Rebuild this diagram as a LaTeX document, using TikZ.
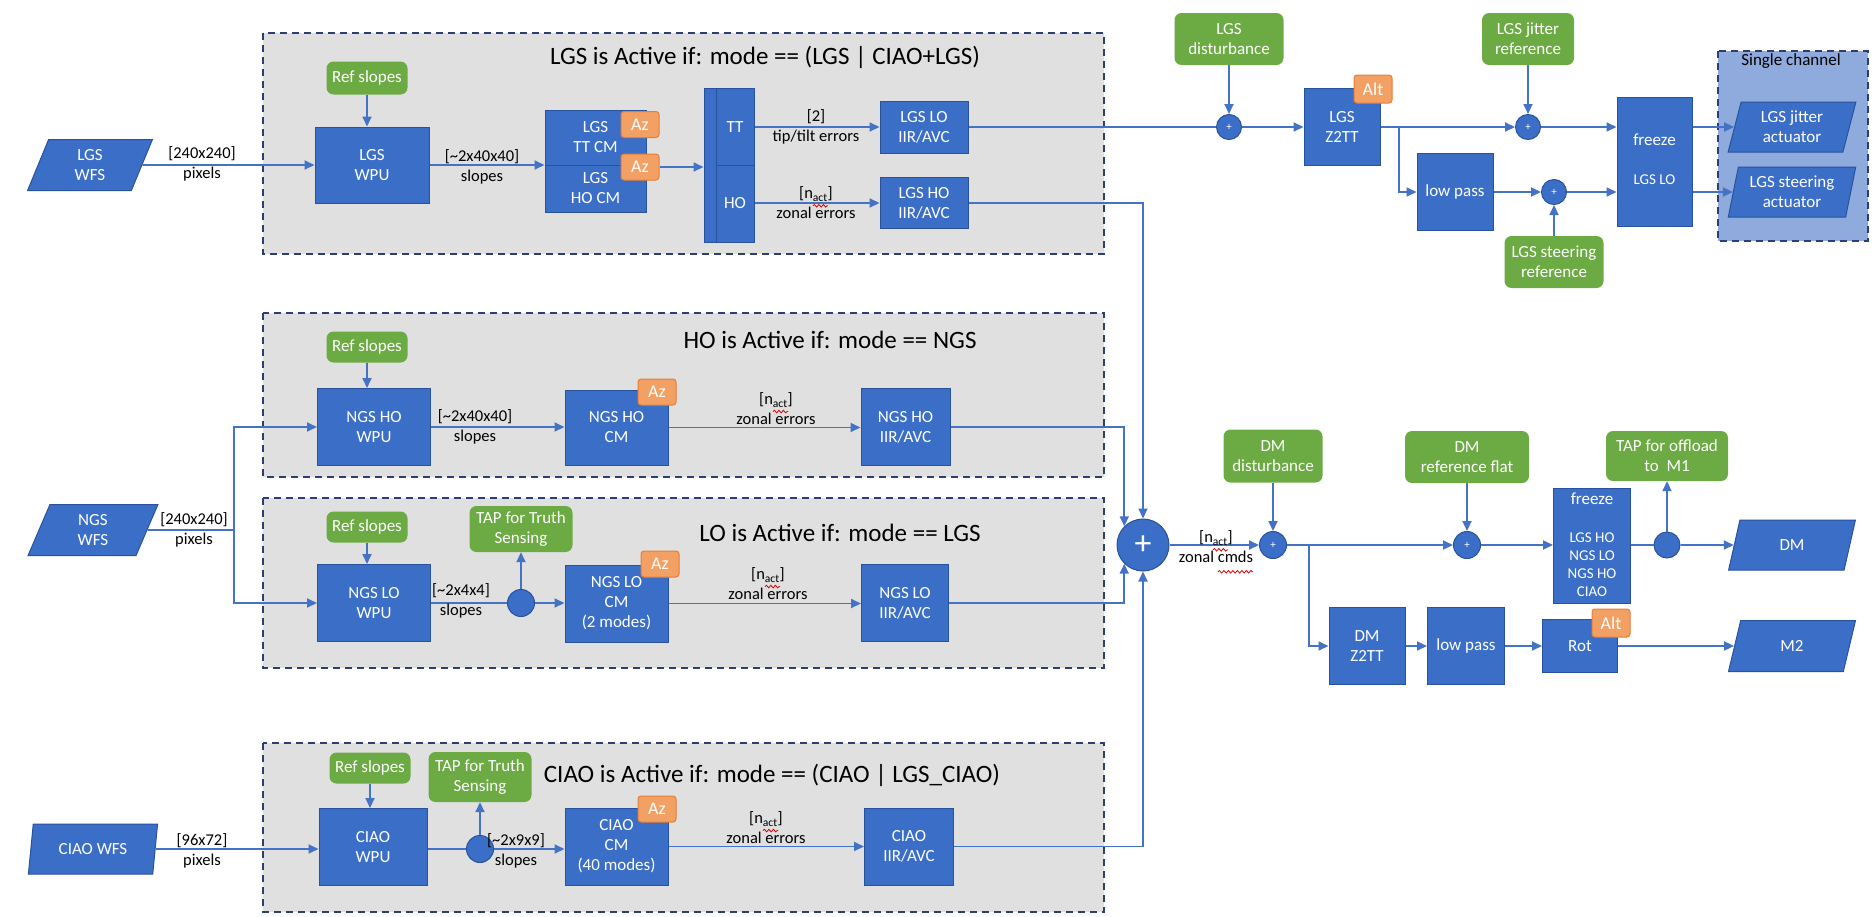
\documentclass[tikz,border=0pt]{standalone}
\usepackage{fontspec}
\setmainfont{Carlito}
\usetikzlibrary{arrows.meta,shapes.geometric,calc,decorations.pathmorphing}
\definecolor{bxblue}{RGB}{59,111,199}
\definecolor{bxedge}{RGB}{40,82,155}
\definecolor{lnblue}{RGB}{68,114,196}
\definecolor{grn}{RGB}{108,170,68}
\definecolor{org}{RGB}{243,160,100}
\definecolor{orgedge}{RGB}{232,125,55}
\definecolor{regiongray}{RGB}{224,224,224}
\definecolor{dashnavy}{RGB}{45,62,115}
\definecolor{chanblue}{RGB}{143,170,220}
\begin{document}
\begin{tikzpicture}[x=1pt,y=-1pt,
  every node/.style={font=\fontsize{16.5}{20}\selectfont},
  bb/.style={rectangle,fill=bxblue,draw=bxedge,line width=1pt,text=white,align=center,inner sep=0pt,font=\fontsize{17}{20}\selectfont},
  gb/.style={rectangle,rounded corners=7pt,fill=grn,text=white,align=center,inner sep=0pt,font=\fontsize{17}{20}\selectfont},
  ob/.style={rectangle,rounded corners=3pt,fill=org,draw=orgedge,line width=1pt,text=white,inner sep=0pt,minimum width=38,minimum height=26,font=\fontsize{18}{20}\selectfont},
  pb/.style={trapezium,trapezium left angle=76,trapezium right angle=104,trapezium stretches=true,fill=bxblue,draw=bxedge,line width=1pt,text=white,align=center,inner sep=0pt,font=\fontsize{17}{20}\selectfont},
  sc/.style={circle,fill=bxblue,draw=bxedge,line width=1pt,text=white,inner sep=0pt,minimum size=25,font=\fontsize{11}{12}\selectfont},
  lbl/.style={align=center,inner sep=0pt,text=black},
  wlbl/.style={align=center,inner sep=0pt,text=white,font=\fontsize{17}{20}\selectfont},
  ttl/.style={inner sep=0pt,text=black,font=\fontsize{25}{30}\selectfont},
  region/.style={fill=regiongray,draw=dashnavy,line width=1.6pt,dash pattern=on 7pt off 5pt},
  arr/.style={draw=lnblue,line width=1.8pt,-{Triangle[length=10pt,width=9pt]}},
  ln/.style={draw=lnblue,line width=1.8pt},
  squig/.style={draw=red!85!black,line width=0.8pt,decorate,decoration={snake,amplitude=1.3pt,segment length=4.5pt}}
]
\useasboundingbox (0,0) rectangle (1872,916);

% ---------- regions ----------
\draw[region] (263,33) rectangle (1104,254);
\draw[region] (263,313) rectangle (1104,477);
\draw[region] (263,498) rectangle (1104,668);
\draw[region] (263,743) rectangle (1104,912);
\draw[region,fill=chanblue] (1718,51) rectangle (1868,241);

\node[ttl] (t1) at (765,57) {LGS is Active if: mode == (LGS | CIAO+LGS)};
\node[ttl] (t2) at (830,340) {HO is Active if: mode == NGS};
\node[ttl] (t3) at (840,533) {LO is Active if: mode == LGS};
\node[ttl] (t4) at (772,775) {CIAO is Active if: mode == (CIAO | LGS\_CIAO)};
\node[lbl,font=\fontsize{17}{20}\selectfont] (t5) at (1791,61) {Single channel};

% ---------- LGS row ----------
\node[pb,minimum width=125,minimum height=51] (lgswfs) at (90,165) {LGS\\WFS};
\node[gb,minimum width=81,minimum height=33] (lgsref) at (367,78) {Ref slopes};
\node[bb,minimum width=114,minimum height=76] (lgswpu) at (372,165) {LGS\\WPU};
\node[bb,minimum width=101,minimum height=55] (lgsttcm) at (595.5,137.5) {LGS\\TT CM};
\node[bb,minimum width=101,minimum height=47] (lgshocm) at (595.5,188.5) {LGS\\HO CM};
\node[ob] (az1) at (640,124.5) {Az};
\node[ob] (az2) at (640,167) {Az};
\node[bb,minimum width=50,minimum height=154] (split) at (729,165) {};
\draw[draw=bxedge,line width=1pt] (716,88) -- (716,242) (716,165) -- (754,165);
\node[wlbl] (tt) at (735,127) {TT};
\node[wlbl] (ho) at (735,203) {HO};
\node[bb,minimum width=88,minimum height=52] (lgslo) at (924,127) {LGS LO\\IIR/AVC};
\node[bb,minimum width=88,minimum height=51] (lgsho) at (924,203) {LGS HO\\IIR/AVC};

\draw[arr] (lgswfs.east) -- (lgswpu.west);
\draw[arr] (lgsref.south) -- (lgsref.south |- lgswpu.north);
\draw[arr] (lgswpu.east) -- (lgswpu.east -| lgsttcm.west);
\draw[arr] (az2.east) -- (az2.east -| split.west);
\draw[arr] (split.east |- tt) -- (lgslo.west);
\draw[arr] (split.east |- ho) -- (lgsho.west);
\node[lbl] (l1) at (202,164) {[240x240]\\pixels};
\node[lbl] (l2) at (482,167) {[\textasciitilde 2x40x40]\\slopes};
\node[lbl] (l3) at (816,127) {[2]\\tip/tilt errors};
\node[lbl] (l4) at (816,203) {[n\textsubscript{act}]\\zonal errors};
\draw[squig] ($(l4.north)+(-3,19)$) -- ++(15,0);

% ---------- top right (LGS LO path) ----------
\node[gb,minimum width=109,minimum height=52] (lgsdist) at (1229,39) {LGS\\disturbance};
\node[sc] (sum1) at (1229,127) {+};
\node[bb,minimum width=76,minimum height=77] (lgsz2tt) at (1342,127) {LGS\\Z2TT};
\node[ob,minimum height=28] (alt1) at (1373,89) {Alt};
\node[gb,minimum width=92,minimum height=52] (lgsjref) at (1528,39) {LGS jitter\\reference};
\node[sc] (sumj) at (1528,127) {+};
\node[bb,minimum width=76,minimum height=77] (lowpass1) at (1455,192) {low pass};
\node[sc] (sums) at (1554,192) {+};
\node[gb,minimum width=99,minimum height=52] (lgssref) at (1554,262) {LGS steering\\reference};
\node[bb,minimum width=75,minimum height=129] (freeze1) at (1654.5,161.5) {};
\node[wlbl] (fz1a) at (1654.5,140) {freeze};
\node[wlbl,font=\fontsize{15}{18}\selectfont] (fz1b) at (1654.5,180) {LGS LO};
\node[pb,minimum width=128,minimum height=50] (lgsjact) at (1792,127) {LGS jitter\\actuator};
\node[pb,minimum width=128,minimum height=50] (lgssact) at (1792,192) {LGS steering\\actuator};
\coordinate (br1) at (1399,127);

\draw[ln] (lgslo.east) -- (sum1.west);
\draw[arr] (lgsdist) -- (sum1);
\draw[arr] (sum1.east) -- (lgsz2tt.west);
\draw[arr] (lgsz2tt.east) -- (sumj.west);
\draw[arr] (br1) |- (lowpass1.west);
\draw[arr] (lowpass1.east) -- (sums.west);
\draw[arr] (lgsjref) -- (sumj);
\draw[arr] (lgssref) -- (sums);
\draw[arr] (sumj.east) -- (sumj.east -| freeze1.west);
\draw[arr] (sums.east) -- (sums.east -| freeze1.west);
\draw[arr] (freeze1.east |- lgsjact.west) -- (lgsjact.west);
\draw[arr] (freeze1.east |- lgssact.west) -- (lgssact.west);

% ---------- NGS WFS ----------
\node[pb,minimum width=130,minimum height=51] (ngswfs) at (93,530) {NGS\\WFS};
\coordinate (fork) at (234,530);

% ---------- HO row ----------
\node[gb,minimum width=81,minimum height=31] (horef) at (367,347) {Ref slopes};
\node[bb,minimum width=113,minimum height=77] (howpu) at (374,427) {NGS HO\\WPU};
\node[bb,minimum width=103,minimum height=75] (hocm) at (616.5,427.5) {NGS HO\\CM};
\node[ob] (az3) at (657,392) {Az};
\node[bb,minimum width=89,minimum height=77] (hoiir) at (905.5,427) {NGS HO\\IIR/AVC};

% ---------- LO row ----------
\node[gb,minimum width=81,minimum height=31] (loref) at (367,527) {Ref slopes};
\node[gb,minimum width=103,minimum height=46] (tap1) at (521,529) {TAP for Truth\\Sensing};
\node[bb,minimum width=113,minimum height=77] (lowpu) at (374,603) {NGS LO\\WPU};
\node[sc,minimum size=27] (tapc1) at (521,603) {};
\node[bb,minimum width=103,minimum height=77] (locm) at (616.5,603.5) {NGS LO\\CM\\(2 modes)};
\node[ob] (az4) at (660,564) {Az};
\node[bb,minimum width=87,minimum height=77] (loiir) at (905,603) {NGS LO\\IIR/AVC};

% ---------- CIAO row ----------
\node[pb,minimum width=130,minimum height=50] (ciaowfs) at (93,849) {CIAO WFS};
\node[gb,minimum width=81,minimum height=31] (ciaoref) at (370,768) {Ref slopes};
\node[gb,minimum width=103,minimum height=50] (tap2) at (480,777) {TAP for Truth\\Sensing};
\node[bb,minimum width=108,minimum height=77] (ciaowpu) at (373,847) {CIAO\\WPU};
\node[sc,minimum size=27] (tapc2) at (480,849) {};
\node[bb,minimum width=103,minimum height=77] (ciaocm) at (616.5,846.5) {CIAO\\CM\\(40 modes)};
\node[ob] (az5) at (657,809) {Az};
\node[bb,minimum width=89,minimum height=77] (ciaoiir) at (909,846.5) {CIAO\\IIR/AVC};

% ---------- big sum ----------
\node[sc,minimum size=52,font=\fontsize{34}{34}\selectfont] (bigsum) at (1143,545) {+};

% HO edges
\draw[ln] (ngswfs.east) -- (fork);
\draw[arr] (fork) |- (howpu.west);
\draw[arr] (fork) |- (lowpu.west);
\draw[arr] (horef.south) -- (horef.south |- howpu.north);
\draw[arr] (howpu.east) -- (howpu.east -| hocm.west);
\draw[arr] (hocm.east) -- (hocm.east -| hoiir.west);
\draw[arr] (hoiir.east) -| (bigsum.north west);
% LO edges
\draw[arr] (loref.south) -- (loref.south |- lowpu.north);
\draw[ln] (lowpu.east) -- (tapc1.west);
\draw[arr] (tapc1.north) -- (tap1.south);
\draw[arr] (tapc1.east) -- (tapc1.east -| locm.west);
\draw[arr] (locm.east) -- (locm.east -| loiir.west);
\draw[arr] (loiir.east) -| (bigsum.south west);
% CIAO edges
\draw[arr] (ciaowfs.east) -- (ciaowfs.east -| ciaowpu.west);
\draw[arr] (ciaoref.south) -- (ciaoref.south |- ciaowpu.north);
\draw[ln] (ciaowpu.east |- tapc2) -- (tapc2.west);
\draw[arr] (tapc2.north) -- (tap2.south);
\draw[arr] (tapc2.east) -- (tapc2.east -| ciaocm.west);
\draw[arr] (ciaocm.east) -- (ciaocm.east -| ciaoiir.west);
\draw[arr] (ciaoiir.east) -| (bigsum.south);
% LGS HO to big sum
\draw[arr] (lgsho.east) -| (bigsum.north);

% labels
\node[lbl] (l5) at (194,530) {[240x240]\\pixels};
\node[lbl] (l6) at (475,427) {[\textasciitilde 2x40x40]\\slopes};
\node[lbl,anchor=south] (l7) at (776,425) {[n\textsubscript{act}]\\zonal errors};
\draw[squig] ($(l7.north)+(-3,19)$) -- ++(15,0);
\node[lbl] (l8) at (461,601) {[\textasciitilde 2x4x4]\\slopes};
\node[lbl,anchor=south] (l9) at (768,600) {[n\textsubscript{act}]\\zonal errors};
\draw[squig] ($(l9.north)+(-3,19)$) -- ++(15,0);
\node[lbl] (l10) at (202,851) {[96x72]\\pixels};
\node[lbl] (l11) at (516,851) {[\textasciitilde 2x9x9]\\slopes};
\node[lbl,anchor=south] (l12) at (766,844) {[n\textsubscript{act}]\\zonal errors};
\draw[squig] ($(l12.north)+(-3,19)$) -- ++(15,0);

% ---------- DM section ----------
\node[gb,minimum width=99,minimum height=53] (dmdist) at (1273,456) {DM\\disturbance};
\node[sc,minimum size=27] (sum2) at (1273,545) {+};
\node[gb,minimum width=124,minimum height=52] (dmref) at (1467,457) {DM\\reference flat};
\node[sc,minimum size=27] (sum3) at (1467,545) {+};
\node[bb,minimum width=77,minimum height=115] (freeze2) at (1592,545.5) {};
\node[wlbl] (fz2a) at (1592,499) {freeze};
\node[wlbl,font=\fontsize{15}{18}\selectfont] (fz2b) at (1592,565) {LGS HO\\NGS LO\\NGS HO\\CIAO};
\node[sc,minimum size=26] (tapc3) at (1667,545) {};
\node[gb,minimum width=122,minimum height=50] (tapm1) at (1667,456) {TAP for offload\\to~ M1};
\node[pb,minimum width=127,minimum height=50] (dm) at (1792,545) {DM};
\node[bb,minimum width=76,minimum height=77] (dmz2tt) at (1367,646) {DM\\Z2TT};
\node[bb,minimum width=77,minimum height=77] (lowpass2) at (1466,646) {low pass};
\node[bb,minimum width=75,minimum height=53] (rot) at (1580,646) {Rot};
\node[ob,minimum height=28] (alt2) at (1611,623) {Alt};
\node[pb,minimum width=127,minimum height=51] (m2) at (1792,646) {M2};
\coordinate (brdm) at (1309,545);

\draw[arr] (bigsum.east) -- (sum2.west);
\draw[arr] (dmdist) -- (sum2);
\draw[arr] (sum2.east) -- (sum3.west);
\draw[arr] (dmref) -- (sum3);
\draw[arr] (sum3.east) -- (sum3.east -| freeze2.west);
\draw[ln] (freeze2.east |- tapc3) -- (tapc3.west);
\draw[arr] (tapc3.north) -- (tapm1.south);
\draw[arr] (tapc3.east) -- (dm.west);
\draw[arr] (brdm) |- (dmz2tt.west);
\draw[arr] (dmz2tt.east) -- (lowpass2.west);
\draw[arr] (lowpass2.east) -- (rot.west);
\draw[arr] (rot.east) -- (m2.west);
\node[lbl] (lzc) at (1216,547) {[n\textsubscript{act}]\\zonal cmds};
\draw[squig] ($(lzc.north)+(-3,19)$) -- ++(15,0);
\draw[squig] ($(lzc.north)+(2,41)$) -- ++(35,0);
\end{tikzpicture}
\end{document}
